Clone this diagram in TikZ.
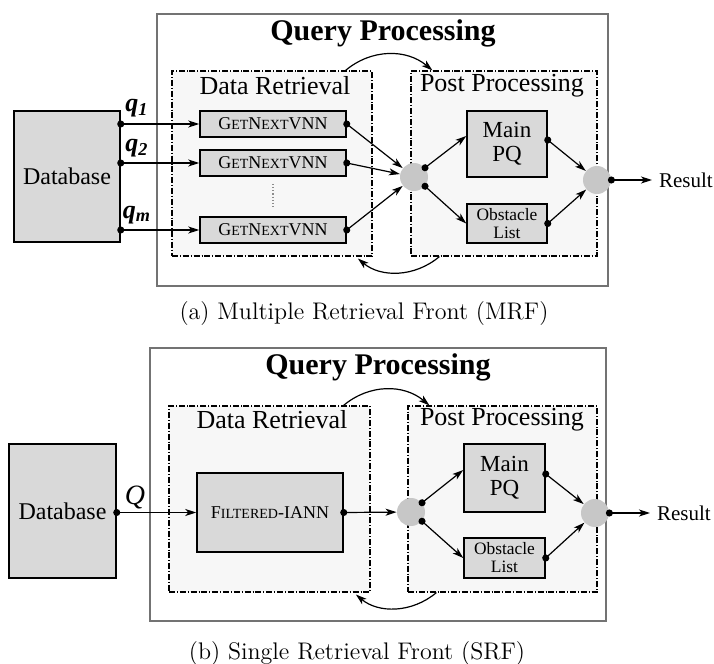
\documentclass[tikz,border=0pt]{standalone}
\usepackage{fontspec}
\setmainfont{Liberation Serif}
\usetikzlibrary{arrows.meta}
\newcommand\capfont{\fontfamily{lmr}\selectfont\fontsize{12}{14}\selectfont}
\newcommand\smallcaps[1]{{\fontsize{7}{8}\selectfont #1}}

\begin{document}
\begin{tikzpicture} [
			x=0.5pt, y=-0.5pt,
			qpbox/.style={rectangle, draw=black!55, line width=0.7pt, inner sep=0},
			stage/.style={rectangle, draw, densely dash dot, line width=0.6pt, fill=black!3, inner sep=0},
			box/.style={rectangle, draw, line width=0.75pt, fill=black!15, inner sep=0, align=center},
			hub/.style={circle, fill=black!22, inner sep=0, minimum size=14pt},
			flow/.style={line width=0.6pt, {Circle[length=3.5pt]}-{Stealth[length=5.5pt, width=3.5pt, inset=1.5pt]}, shorten <=-1.75pt},
			backarrow/.style={line width=0.6pt, -{Stealth[length=5.5pt, width=3.5pt, inset=1.5pt]}, bend left=40},
			qptitle/.style={font=\fontsize{15}{18}\selectfont\bfseries},
			stagename/.style={font=\fontsize{13}{15}\selectfont},
			qname/.style={font=\fontsize{13}{15}\selectfont\bfseries\itshape}
		]
		\useasboundingbox (0,0) rectangle (714,664);

		% (a) multiple retrieval front
		\node at (382.5,150) [qpbox, minimum width=225.5pt, minimum height=136pt] (qpA) {};
		\node at (383,33) [qptitle] (qpAtitle) {Query Processing};
		\node at (272,163.5) [stage, minimum width=100pt, minimum height=92.5pt] (drA) {};
		\node at (504,163.5) [stage, minimum width=93pt, minimum height=92.5pt] (ppA) {};
		\node at (275,86) [stagename] (drAname) {Data Retrieval};
		\node at (502,86) [stagename] (ppAname) {Post Processing};
		\node at (67,176.5) [box, minimum width=53pt, minimum height=65.5pt, font=\fontsize{12}{14}\selectfont] (dbA) {Database};
		\node at (273,124) [box, minimum width=73pt, minimum height=13pt, font=\fontsize{9}{10}\selectfont] (gnA1) {G\smallcaps{ET}N\smallcaps{EXT}VNN};
		\node at (273,163) [box, minimum width=73pt, minimum height=13pt, font=\fontsize{9}{10}\selectfont] (gnA2) {G\smallcaps{ET}N\smallcaps{EXT}VNN};
		\node at (273,230) [box, minimum width=73pt, minimum height=13pt, font=\fontsize{9}{10}\selectfont] (gnA3) {G\smallcaps{ET}N\smallcaps{EXT}VNN};
		\node at (137,108) [qname] (qA1) {q\textsubscript{1}};
		\node at (137,148) [qname] (qA2) {q\textsubscript{2}};
		\node at (137,215) [qname] (qA3) {q\textsubscript{m}};
		\node at (414,177) [hub] (hubA1) {};
		\node at (597,180) [hub] (hubA2) {};
		\node at (507,144) [box, minimum width=40pt, minimum height=33pt, font=\fontsize{11.5}{12}\selectfont] (mpqA) {Main\\PQ};
		\node at (507,223.5) [box, minimum width=40pt, minimum height=19.5pt, font=\fontsize{8.7}{9}\selectfont] (obsA) {Obstacle\\List};
		\node at (652,180) [anchor=west, font=\fontsize{10.5}{12}\selectfont] (resA) {Result};

		\draw [flow] (dbA.east |- gnA1) -- (gnA1);
		\draw [flow] (dbA.east |- gnA2) -- (gnA2);
		\draw [flow] (dbA.east |- gnA3) -- (gnA3);
		\draw [densely dotted, black!45, line width=0.6pt] ([yshift=-3.5pt]gnA2.south) -- ([yshift=3.5pt]gnA3.north);
		\draw [flow] (gnA1.east) -- (hubA1);
		\draw [flow] (gnA2.east) -- (hubA1);
		\draw [flow] (gnA3.east) -- (hubA1);
		\draw [flow] (hubA1.40) -- ([yshift=4pt]mpqA.west);
		\draw [flow] (hubA1.-40) -- (obsA.west);
		\draw [flow] ([yshift=2pt]mpqA.east) -- (hubA2);
		\draw [flow] (obsA.east) -- (hubA2);
		\draw [flow] (hubA2.east) -- (resA.west);
		\draw [backarrow] ([xshift=-13.5pt]drA.north east) to ([xshift=11pt]ppA.north west);
		\draw [backarrow, shorten >=1.5pt] ([xshift=14.5pt]ppA.south west) to ([xshift=-8.5pt]drA.south east);
		\node at (364,314) [font=\capfont] (capA) {(a) Multiple Retrieval Front (MRF)};

		% (b) single retrieval front
		\node at (378,484.5) [qpbox, minimum width=228pt, minimum height=136.5pt] (qpB) {};
		\node at (378,367) [qptitle] (qpBtitle) {Query Processing};
		\node at (269.5,499) [stage, minimum width=100.5pt, minimum height=93pt] (drB) {};
		\node at (502.5,499) [stage, minimum width=94.5pt, minimum height=93pt] (ppB) {};
		\node at (272,420) [stagename] (drBname) {Data Retrieval};
		\node at (502,420) [stagename] (ppBname) {Post Processing};
		\node at (62.5,511) [box, minimum width=53.5pt, minimum height=67pt, font=\fontsize{12}{14}\selectfont] (dbB) {Database};
		\node at (270,512.5) [box, minimum width=73pt, minimum height=39.5pt, font=\fontsize{9}{10}\selectfont] (fiB) {F\smallcaps{ILTERED}-IANN};
		\node at (135,497) [font=\fontsize{14}{16}\selectfont\itshape] (qB) {Q};
		\node at (411,512) [hub] (hubB1) {};
		\node at (595,513) [hub] (hubB2) {};
		\node at (504.5,478) [box, minimum width=40.5pt, minimum height=34pt, font=\fontsize{11.5}{12}\selectfont] (mpqB) {Main\\PQ};
		\node at (504.5,558) [box, minimum width=40.5pt, minimum height=20pt, font=\fontsize{8.7}{9}\selectfont] (obsB) {Obstacle\\List};
		\node at (650,513) [anchor=west, font=\fontsize{10.5}{12}\selectfont] (resB) {Result};

		\draw [flow] (dbB.east |- fiB) -- (fiB);
		\draw [flow] (fiB.east) -- (hubB1);
		\draw [flow] (hubB1.40) -- ([yshift=4pt]mpqB.west);
		\draw [flow] (hubB1.-40) -- (obsB.west);
		\draw [flow] ([yshift=2pt]mpqB.east) -- (hubB2);
		\draw [flow] (obsB.east) -- (hubB2);
		\draw [flow] (hubB2.east) -- (resB.west);
		\draw [backarrow] ([xshift=-13.5pt]drB.north east) to ([xshift=11pt]ppB.north west);
		\draw [backarrow, shorten >=1.5pt] ([xshift=14.5pt]ppB.south west) to ([xshift=-8.5pt]drB.south east);
		\node at (357,654) [font=\capfont] (capB) {(b) Single Retrieval Front (SRF)};
	\end{tikzpicture}
\end{document}
